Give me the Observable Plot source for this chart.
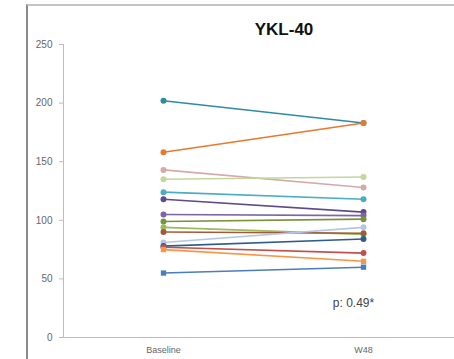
<!DOCTYPE html>
<html>
<head>
<meta charset="utf-8">
<script src="https://cdn.jsdelivr.net/npm/d3@7"></script>
<script src="https://cdn.jsdelivr.net/npm/@observablehq/plot@0.6"></script>
<style>
  html, body { margin: 0; padding: 0; background: #fff; }
  #wrap { position: relative; width: 454px; height: 359px; overflow: hidden; }
  #frame { position: absolute; left: 26px; top: 4px; width: 440px; height: 370px;
           border-top: 2px solid #c4c4c4; border-left: 2px solid #8a8a8a; box-sizing: border-box; }
  #chart { position: absolute; left: 0; top: 0; }
</style>
</head>
<body>
<div id="wrap"><div id="frame"></div><div id="chart"></div></div>
<script>
const timepoints = ["Baseline", "W48"];
const subjects = ["S1","S2","S3","S4","S5","S6","S7","S8","S9","S10","S11","S12","S13","S14","S15"];
const baseline = [202, 158, 143, 135, 124, 118, 105, 99, 94, 90, 81, 78, 77, 75, 55];
const week48   = [183, 183, 128, 137, 118, 107, 104, 101, 88, 89, 94, 84, 72, 65, 60];
const colors   = ["#2E8BA5","#E8792E","#D6A9A9","#C3D69B","#4BACC6","#5F4B8B","#8064A2","#77933C",
                  "#9BBB59","#A5573A","#B3C6E7","#2F5D8A","#C0504D","#F79646","#4A7EBB"];
const symbols  = ["circle","circle","circle","circle","circle","circle","circle","circle",
                  "circle","circle","circle","circle","circle","square","square"];
const yTicks = [0, 50, 100, 150, 200, 250];
const yTickLabels = ["0", "50", "100", "150", "200", "250"];
const title = "YKL-40";
const pLabel = "p: 0.49*";

const rows = [];
subjects.forEach((s, i) => {
  rows.push({subject: s, time: timepoints[0], value: baseline[i], color: colors[i], symbol: symbols[i]});
  rows.push({subject: s, time: timepoints[1], value: week48[i], color: colors[i], symbol: symbols[i]});
});

const plot = Plot.plot({
  width: 454,
  height: 359,
  marginLeft: 63,
  marginRight: 0,
  marginTop: 44,
  marginBottom: 22,
  style: {fontFamily: "Liberation Sans, Arial, sans-serif", background: "transparent"},
  x: {type: "point", domain: timepoints, range: [163, 363], padding: 0, label: null},
  y: {domain: [0, 250], label: null},
  marks: [
    Plot.frame({anchor: "left", stroke: "#bdbdbd", strokeWidth: 1}),
    Plot.ruleY([0], {stroke: "#bdbdbd", strokeWidth: 1}),
    Plot.axisY({ticks: yTicks, tickFormat: (d, i) => yTickLabels[i], tickSize: 4, tickPadding: 7,
                fontSize: 10, stroke: "#bdbdbd", color: "#666", label: null}),
    Plot.axisX({tickSize: 0, tickPadding: 9, fontSize: 9, color: "#666", label: null}),
    Plot.lineY(rows, {x: "time", y: "value", z: "subject", stroke: "color", strokeWidth: 1.6}),
    Plot.dot(rows, {x: "time", y: "value", fill: "color", r: 3, symbol: "symbol", stroke: "none"}),
    Plot.text([title], {frameAnchor: "top", dy: -22, dx: 25, fontSize: 17, fontWeight: "bold", fill: "#111"}),
    Plot.text([pLabel], {x: () => timepoints[1], y: () => 29, dx: -10, fontSize: 12, fill: "#444"})
  ]
});
document.getElementById("chart").appendChild(plot);
</script>
</body>
</html>
